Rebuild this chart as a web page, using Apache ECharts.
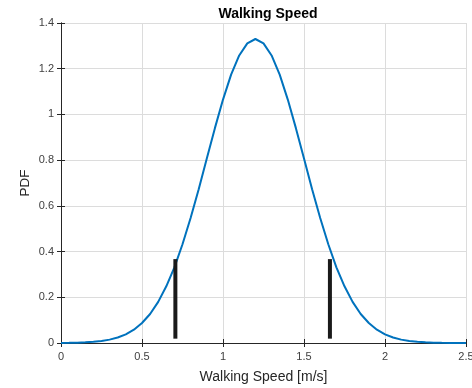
<!DOCTYPE html>
<html><head><meta charset="utf-8">
<script src="https://cdn.jsdelivr.net/npm/echarts@6/dist/echarts.min.js"></script>
<style>html,body{margin:0;padding:0;background:#fff}#c{width:472px;height:388px}</style>
</head><body><div id="c"></div>
<script>
var speeds = [0,0.05,0.1,0.15,0.2,0.25,0.3,0.35,0.4,0.45,0.5,0.55,0.6,0.65,0.7,0.75,0.8,0.85,0.9,0.95,1.0,1.05,1.1,1.15,1.2,1.25,1.3,1.35,1.4,1.45,1.5,1.55,1.6,1.65,1.7,1.75,1.8,1.85,1.9,1.95,2.0,2.05,2.1,2.15,2.2,2.25,2.3,2.35,2.4,2.45,2.5];
var pdf = [0.0004,0.0009,0.0016,0.0029,0.0051,0.0087,0.0148,0.0241,0.0379,0.0584,0.0874,0.127,0.180,0.248,0.331,0.432,0.547,0.673,0.807,0.940,1.065,1.174,1.258,1.311,1.330,1.311,1.258,1.174,1.065,0.940,0.807,0.673,0.547,0.432,0.331,0.248,0.180,0.127,0.0874,0.0584,0.0379,0.0241,0.0148,0.0087,0.0051,0.0029,0.0016,0.0009,0.0004,0.0002,0.0001];
var markerX = [0.706, 1.66];
var markerY = [0.019, 0.367];
var xTicks = [0,0.5,1,1.5,2,2.5];
var yTicks = [0,0.2,0.4,0.6,0.8,1,1.2,1.4];

var curve = speeds.map(function(s,i){return [s,pdf[i]];});
var font = 'Liberation Sans, Arial, Helvetica, sans-serif';
var series = [{type:'line',data:curve,showSymbol:false,smooth:false,lineStyle:{color:'#0072BD',width:2},itemStyle:{color:'#0072BD'},z:3}];
markerX.forEach(function(x){
  series.push({type:'line',data:[[x,markerY[0]],[x,markerY[1]]],showSymbol:false,lineStyle:{color:'#1a1a1a',width:4,cap:'butt'},z:4});
});
var axisCommon = {axisLine:{show:true,lineStyle:{color:'#262626',width:1}},axisTick:{show:true,inside:true,length:4,lineStyle:{color:'#262626'}}};
var chart = echarts.init(document.getElementById('c'));
chart.setOption({
  backgroundColor:'#fff',
  animation:false,
  title:{text:'Walking Speed',left:263,top:2,textAlign:'center',textStyle:{fontFamily:font,fontSize:14,fontWeight:'bold',color:'#000'}},
  grid:{left:61,right:6,top:23,bottom:45,containLabel:false,outerBoundsMode:'none'},
  xAxis:[
    Object.assign({type:'value',min:0,max:2.5,interval:0.5,position:'bottom',
      name:'Walking Speed [m/s]',nameLocation:'middle',nameGap:27,nameMoveOverlap:false,nameTextStyle:{fontFamily:font,fontSize:14,color:'#262626'},
      axisLabel:{fontFamily:font,fontSize:11,color:'#404040',margin:8,formatter:function(v){return String(v);}},
      splitLine:{show:true,lineStyle:{color:'#dcdcdc',width:1}}},axisCommon),
    Object.assign({type:'value',min:0,max:2.5,interval:0.5,position:'top',axisLabel:{show:false},splitLine:{show:false}},axisCommon)
  ],
  yAxis:[
    Object.assign({type:'value',min:0,max:1.4,interval:0.2,position:'left',
      name:'PDF',nameLocation:'middle',nameGap:29,nameMoveOverlap:false,nameTextStyle:{fontFamily:font,fontSize:13.5,color:'#262626'},
      axisLabel:{fontFamily:font,fontSize:11,color:'#404040',margin:7,formatter:function(v){return String(Math.round(v*10)/10);}},
      splitLine:{show:true,lineStyle:{color:'#dcdcdc',width:1}}},axisCommon),
    Object.assign({type:'value',min:0,max:1.4,interval:0.2,position:'right',axisLabel:{show:false},splitLine:{show:false}},axisCommon)
  ],
  series:series
});
</script></body></html>
